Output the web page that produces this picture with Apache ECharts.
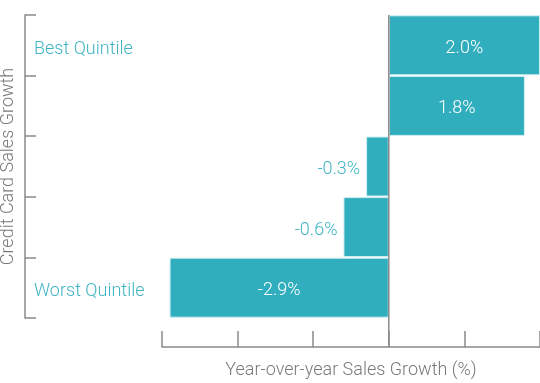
<!DOCTYPE html>
<html><head><meta charset="utf-8">
<script src="https://cdn.jsdelivr.net/npm/echarts@6/dist/echarts.min.js"></script>
<style>html,body{margin:0;padding:0;background:#fff}#c{width:540px;height:383px}</style>
</head><body><div id="c"></div>
<script>
var categories = ['Best Quintile', 'Quintile 2', 'Quintile 3', 'Quintile 4', 'Worst Quintile'];
var shownLabels = ['Best Quintile', '', '', '', 'Worst Quintile'];
var values = [2.0, 1.8, -0.3, -0.6, -2.9];
var xTicks = [-3, -2, -1, 0, 1, 2];
var xAxisTitle = 'Year-over-year Sales Growth (%)';
var yAxisTitle = 'Credit Card Sales Growth';

var TEAL = '#31aebd';
var TEXT_TEAL = '#3fb4c3';
var GRAY = '#8a8a8a';
var FONT = 'Roboto';
var GRID_TOP = 15, GRID_BOTTOM = 65, X_OFFSET = 29;

var chart = echarts.init(document.getElementById('c'), null, {renderer: 'canvas'});
var option = {
  animation: false,
  grid: {left: 162, right: 0, top: GRID_TOP, bottom: GRID_BOTTOM, containLabel: false, outerBoundsMode: 'none'},
  xAxis: {
    type: 'value', min: xTicks[0], max: xTicks[xTicks.length - 1], interval: 1,
    offset: X_OFFSET,
    axisLine: {show: true, onZero: false, lineStyle: {color: GRAY, width: 1.5}},
    axisTick: {show: true, inside: true, length: 16, lineStyle: {color: GRAY, width: 1.5}},
    axisLabel: {show: false},
    splitLine: {show: false},
    name: xAxisTitle, nameLocation: 'middle', nameGap: 14,
    nameTextStyle: {color: '#7a7a7a', fontSize: 18, fontFamily: FONT, fontWeight: 300}
  },
  yAxis: {
    type: 'category', data: categories, inverse: true, offset: 137,
    axisLine: {show: true, onZero: false, lineStyle: {color: GRAY, width: 1.5}},
    axisTick: {show: true, inside: true, length: 11, lineStyle: {color: GRAY, width: 1.5}},
    axisLabel: {show: true, inside: true, margin: 9, color: TEXT_TEAL, fontSize: 18, fontFamily: FONT, fontWeight: 300,
      formatter: function (v, i) { return shownLabels[i] ? '{a|' + shownLabels[i] + '}' : ''; },
      rich: {a: {color: TEXT_TEAL, fontSize: 18, fontFamily: FONT, fontWeight: 300, padding: [8, 0, 0, 0]}}},
    name: yAxisTitle, nameLocation: 'middle', nameGap: 4, nameRotate: 90,
    nameTextStyle: {color: '#7a7a7a', fontSize: 18, fontFamily: FONT, fontWeight: 300}
  },
  series: [{
    type: 'bar', barCategoryGap: '1%',
    data: values.map(function (v) {
      var small = Math.abs(v) < 1;
      return {value: v, label: {
        show: true, position: small ? 'left' : 'inside', distance: 6,
        color: small ? TEXT_TEAL : '#ffffff'
      }};
    }),
    itemStyle: {color: TEAL, borderColor: '#d2eff3', borderWidth: 1},
    label: {fontSize: 18, fontFamily: FONT, fontWeight: 300, offset: [0, 3],
      formatter: function (p) { return p.value.toFixed(1) + '%'; }}
  }]
};
chart.setOption(option);
var x0 = chart.convertToPixel({xAxisIndex: 0}, 0);
var yBottom = 383 - GRID_BOTTOM + X_OFFSET;
chart.setOption({graphic: [{type: 'line', shape: {x1: x0, y1: GRID_TOP, x2: x0, y2: yBottom},
  style: {stroke: GRAY, lineWidth: 1.5}, z: 10}]});
</script></body></html>
